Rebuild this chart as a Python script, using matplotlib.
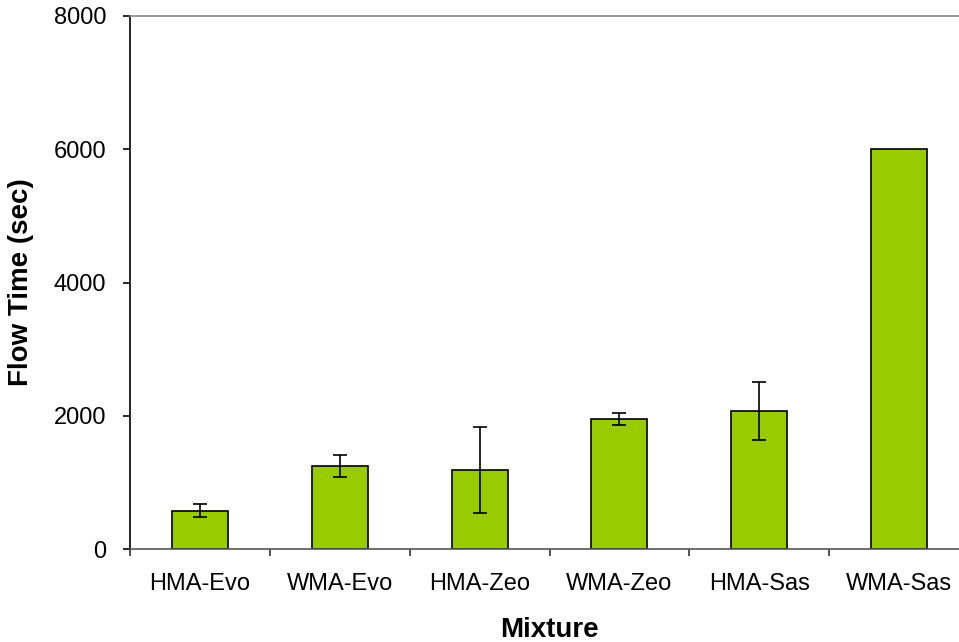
import matplotlib
matplotlib.use("Agg")
import matplotlib.pyplot as plt
import numpy as np

plt.rcParams['font.family'] = ['Liberation Sans', 'DejaVu Sans']

mixtures = ["HMA-Evo", "WMA-Evo", "HMA-Zeo", "WMA-Zeo", "HMA-Sas", "WMA-Sas"]
flow_time = [575, 1250, 1185, 1950, 2070, 6000]
flow_err = [95, 162, 640, 93, 430, 0]
y_ticks = [0, 2000, 4000, 6000, 8000]

fig = plt.figure(figsize=(9.59, 6.42), dpi=100)
ax = fig.add_axes([130/959, 93/642, 839/959, 533/642])

x = np.arange(len(mixtures)) + 0.5
ax.bar(x, flow_time, width=0.4, color="#99CC00", edgecolor="black", linewidth=1.2, zorder=2)
for xi, v, e in zip(x, flow_time, flow_err):
    if e > 0:
        ax.errorbar(xi, v, yerr=e, fmt="none", ecolor="black", elinewidth=1.2,
                    capsize=5, capthick=1.2, zorder=3)

ax.set_xlim(0, len(mixtures))
ax.set_ylim(0, 8000)
ax.set_yticks(y_ticks)
ax.set_yticklabels([str(t) for t in y_ticks], fontsize=17)
ax.set_xticks(np.arange(len(mixtures) + 1))
ax.set_xticklabels([])
ax.set_xticks(x, minor=True)
ax.set_xticklabels(mixtures, minor=True, fontsize=17)
ax.tick_params(axis="x", which="minor", length=0, pad=17)
ax.tick_params(axis="x", which="major", direction="out", length=5, width=1.2, color="#333333")
ax.tick_params(axis="y", direction="out", length=5, width=1.2, color="black", pad=12)

ax.spines["left"].set_color("black")
ax.spines["bottom"].set_color("#555555")
ax.spines["top"].set_color("#888888")
ax.spines["right"].set_visible(False)
for s in ax.spines.values():
    s.set_linewidth(1.2)

ax.set_xlabel("Mixture", fontsize=20, fontweight="bold")
ax.xaxis.set_label_coords(0.5, -0.127)
ax.set_ylabel("Flow Time (sec)", fontsize=20, fontweight="bold", labelpad=14)

fig.savefig("out.png", dpi=100)
